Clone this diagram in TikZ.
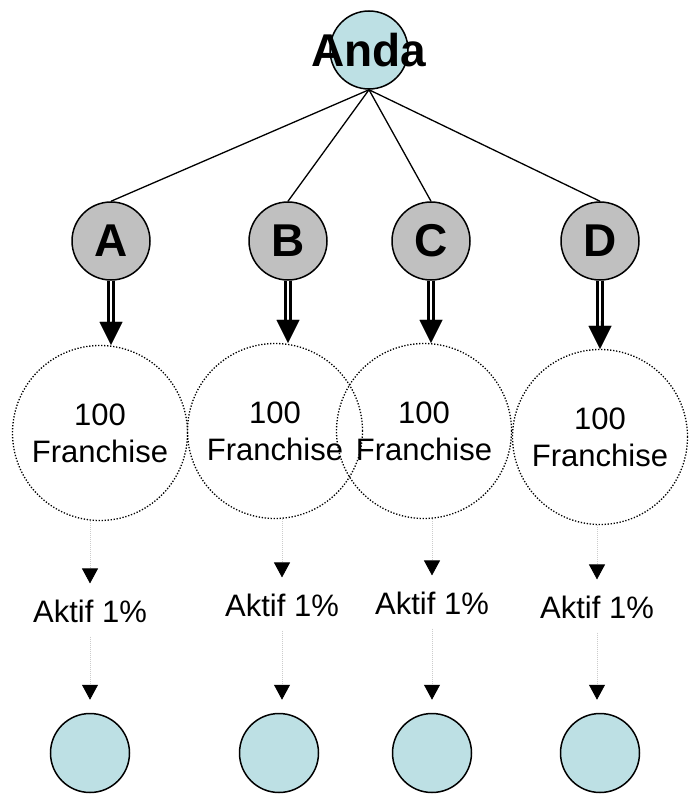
\documentclass[tikz,border=0pt]{standalone}
\usepackage{fontspec}
\setmainfont{Liberation Sans}
\usetikzlibrary{arrows.meta}
\definecolor{paleblue}{RGB}{189,224,228}
\definecolor{midgray}{RGB}{192,192,192}

\begin{document}
\begin{tikzpicture}[x=1pt,y=-1pt,
  rootball/.style={circle,draw,line width=1.5pt,fill=paleblue,minimum size=78pt,inner sep=0pt},
  member/.style={circle,draw,line width=1.5pt,fill=midgray,minimum size=78pt,inner sep=0pt,
    font=\fontsize{46}{46}\selectfont\bfseries},
  pool/.style={circle,draw,line width=1.3pt,dash pattern=on 1.3pt off 1.7pt,minimum size=175pt,
    inner sep=0pt,align=center,font=\fontsize{31}{37}\selectfont},
  rate/.style={inner sep=0pt,font=\fontsize{31}{37}\selectfont},
  leaf/.style={circle,draw,line width=1.5pt,fill=paleblue,minimum size=79pt,inner sep=0pt},
  link/.style={line width=1.3pt},
  dbl/.style={double,line width=2.2pt,double distance=2.8pt,shorten >=21pt},
  head/.style={line width=0.01pt,shorten <=40pt,-{Triangle[width=23pt,length=23pt]}},
  dotarrow/.style={gray!40,line width=0.8pt,dash pattern=on 1pt off 1pt,
    -{Triangle[width=16pt,length=15pt,color=black,fill=black]}}]
  \useasboundingbox (0,0) rectangle (689,794);

  % top
  \node[rootball] (anda) at (369,50) {};
  \node[font=\fontsize{46}{46}\selectfont\bfseries] (andatext) at (anda) {Anda};

  % members
  \node[member] (A) at (111,241) {A};
  \node[member] (B) at (288,241) {B};
  \node[member] (C) at (431,241) {C};
  \node[member] (D) at (600,241) {D};
  \draw[link] (anda.south) -- (A.north);
  \draw[link] (anda.south) -- (B.north);
  \draw[link] (anda.south) -- (C.north);
  \draw[link] (anda.south) -- (D.north);

  % franchise pools
  \node[pool] (fA) at (100,433) {100\\Franchise};
  \node[pool] (fB) at (275,431) {100\\Franchise};
  \node[pool] (fC) at (424,431) {100\\Franchise};
  \node[pool] (fD) at (600,437) {100\\Franchise};
  \draw[dbl] (A.south) -- (A.south |- fA.north);
  \draw[head] (A.south) -- (A.south |- fA.north);
  \draw[dbl] (B.south) -- (B.south |- fB.north);
  \draw[head] (B.south) -- (B.south |- fB.north);
  \draw[dbl] (C.south) -- (C.south |- fC.north);
  \draw[head] (C.south) -- (C.south |- fC.north);
  \draw[dbl] (D.south) -- (D.south |- fD.north);
  \draw[head] (D.south) -- (D.south |- fD.north);

  % active rate
  \node[rate] (aA) at (90,611) {Aktif 1\%};
  \node[rate] (aB) at (282,605) {Aktif 1\%};
  \node[rate] (aC) at (432,603) {Aktif 1\%};
  \node[rate] (aD) at (597,607) {Aktif 1\%};
  \draw[dotarrow,shorten >=16pt] (aA.north |- fA.south) -- (aA.north);
  \draw[dotarrow,shorten >=16pt] (aB.north |- fB.south) -- (aB.north);
  \draw[dotarrow,shorten >=16pt] (aC.north |- fC.south) -- (aC.north);
  \draw[dotarrow,shorten >=16pt] (aD.north |- fD.south) -- (aD.north);

  % new members
  \node[leaf] (lA) at (90,753) {};
  \node[leaf] (lB) at (279,753) {};
  \node[leaf] (lC) at (432,753) {};
  \node[leaf] (lD) at (600,753) {};
  \draw[dotarrow,shorten <=14pt,shorten >=13pt] (aA.south) -- (aA.south |- lA.north);
  \draw[dotarrow,shorten <=14pt,shorten >=13pt] (aB.south) -- (aB.south |- lB.north);
  \draw[dotarrow,shorten <=14pt,shorten >=13pt] (aC.south) -- (aC.south |- lC.north);
  \draw[dotarrow,shorten <=14pt,shorten >=13pt] (aD.south) -- (aD.south |- lD.north);
\end{tikzpicture}
\end{document}
